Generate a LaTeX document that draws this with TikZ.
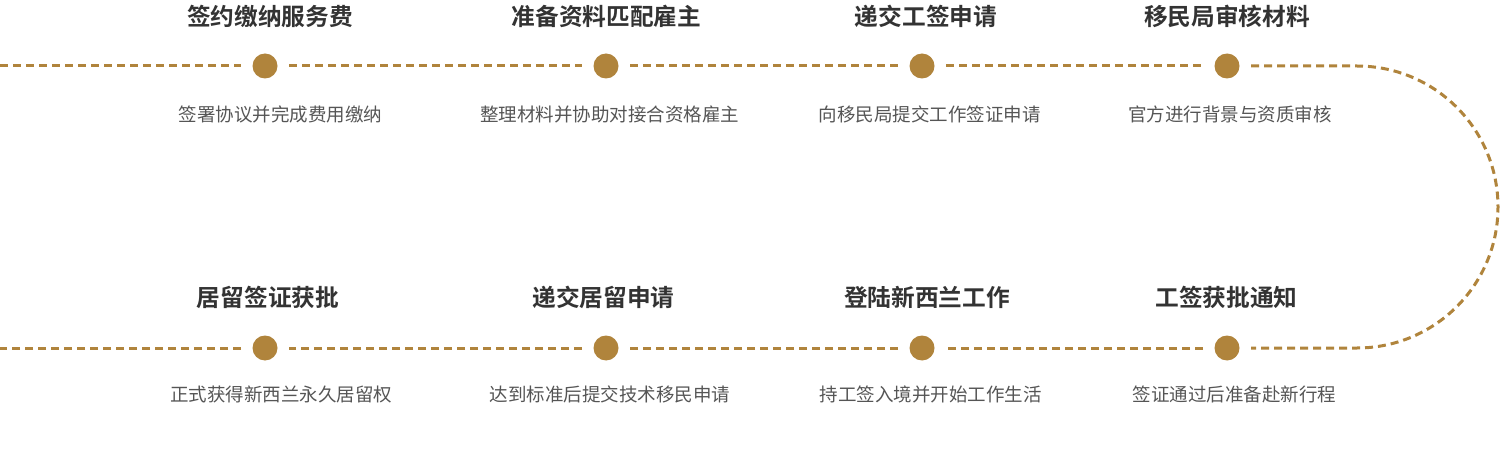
\documentclass[tikz,border=0pt]{standalone}
\usepackage{fontspec}
\newfontfamily\cjk{Noto Sans CJK SC}
\newfontfamily\cjkbold{Noto Sans CJK SC Bold}
\usetikzlibrary{positioning}
\definecolor{gold}{HTML}{B0843C}
\definecolor{titlegray}{HTML}{333333}
\definecolor{descgray}{HTML}{555555}
\tikzset{
  track/.style={gold, line width=3pt, dash pattern=on 8pt off 5pt},
  stepdot/.style={circle, fill=gold, minimum size=25pt, inner sep=0pt, outer sep=11.5pt},
  steptitle/.style={font=\cjkbold\fontsize{23.7}{26}\selectfont, text=titlegray, inner sep=0pt, anchor=base},
  stepdesc/.style={font=\cjk\fontsize{18.5}{21}\selectfont, text=descgray, inner sep=0pt, anchor=base},
}
\begin{document}
\begin{tikzpicture}[x=1pt,y=-1pt]
                \useasboundingbox (0,0) rectangle (1500,465);
                % top row
                \node [stepdot] (a1) at (265,66) {};
                \node [stepdot] (a2) at (606,66) {};
                \node [stepdot] (a3) at (922,66) {};
                \node [stepdot] (a4) at (1227,66) {};
                % bottom row
                \node [stepdot] (b1) at (265,348) {};
                \node [stepdot] (b2) at (606,348) {};
                \node [stepdot] (b3) at (922,348) {};
                \node [stepdot] (b4) at (1227,348) {};

                \coordinate (ta) at (0,66);
                \coordinate (tb) at (0,348);
                \coordinate (ra) at (1357,66);

                \node [steptitle] (ta1) at (270,25.3) {签约缴纳服务费};
                \node [steptitle] (ta2) at (606.5,25.3) {准备资料匹配雇主};
                \node [steptitle] (ta3) at (926,25.3) {递交工签申请};
                \node [steptitle] (ta4) at (1227,25.3) {移民局审核材料};
                \node [stepdesc] (da1) at (280.5,121.7) {签署协议并完成费用缴纳};
                \node [stepdesc] (da2) at (609.5,121.7) {整理材料并协助对接合资格雇主};
                \node [stepdesc] (da3) at (929.5,121.7) {向移民局提交工作签证申请};
                \node [stepdesc] (da4) at (1230,121.7) {官方进行背景与资质审核};

                \node [steptitle] (tb1) at (268,306.3) {居留签证获批};
                \node [steptitle] (tb2) at (603.5,306.3) {递交居留申请};
                \node [steptitle] (tb3) at (927,306.3) {登陆新西兰工作};
                \node [steptitle] (tb4) at (1226.5,306.3) {工签获批通知};
                \node [stepdesc] (db1) at (281,401.7) {正式获得新西兰永久居留权};
                \node [stepdesc] (db2) at (610,401.7) {达到标准后提交技术移民申请};
                \node [stepdesc] (db3) at (930.5,401.7) {持工签入境并开始工作生活};
                \node [stepdesc] (db4) at (1234.5,401.7) {签证通过后准备赴新行程};

                \draw [track] (ta) -- (a1);
                \draw [track] (a1) -- (a2);
                \draw [track] (a2) -- (a3);
                \draw [track] (a3) -- (a4);
                \draw [track] (a4) -- (ra) arc [start angle=90, end angle=-90, radius=141pt] -- (b4);
                \draw [track] (b4) -- (b3);
                \draw [track] (b3) -- (b2);
                \draw [track] (b2) -- (b1);
                \draw [track] (b1) -- (tb);
\end{tikzpicture}
\end{document}
